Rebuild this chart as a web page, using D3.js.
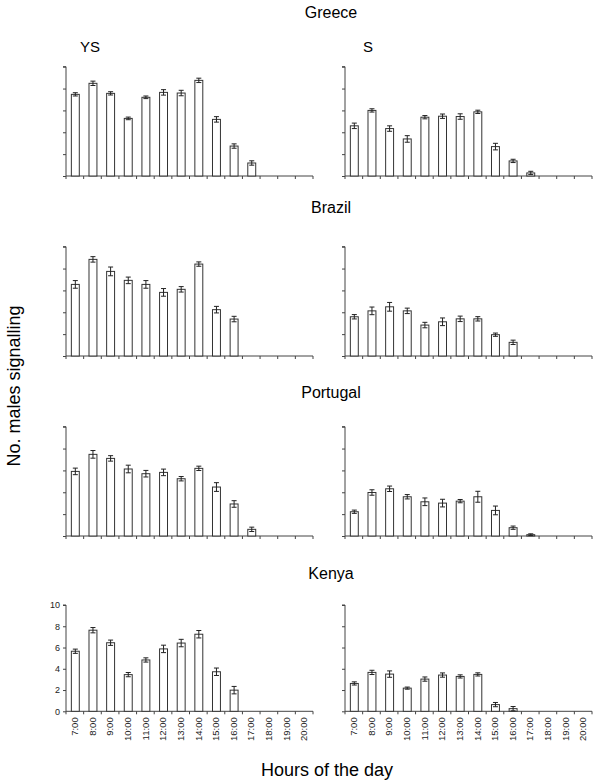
<!DOCTYPE html>
<html>
<head>
<meta charset="utf-8">
<script src="https://cdn.jsdelivr.net/npm/d3@7"></script>
<style>
  html, body { margin: 0; padding: 0; background: #fff; }
  svg { display: block; font-family: "Liberation Sans", Arial, sans-serif; }
</style>
</head>
<body>
<svg id="chart" width="605" height="782"></svg>
<script>
// ---------- data ----------
const hours = ["7:00","8:00","9:00","10:00","11:00","12:00","13:00","14:00","15:00","16:00","17:00","18:00","19:00","20:00"];
const yTicks = [0, 2, 4, 6, 8, 10];
const countries = ["Greece", "Brazil", "Portugal", "Kenya"];
const groups = ["YS", "S"];

const greeceYS    = [7.47, 8.48, 7.56, 5.27, 7.20, 7.65, 7.59, 8.75, 5.18, 2.74, 1.19, 0, 0, 0];
const greeceYSErr = [0.15, 0.20, 0.15, 0.12, 0.12, 0.25, 0.25, 0.20, 0.25, 0.20, 0.20, 0, 0, 0];
const greeceS     = [4.59, 6.00, 4.34, 3.39, 5.38, 5.47, 5.44, 5.87, 2.69, 1.38, 0.28, 0, 0, 0];
const greeceSErr  = [0.25, 0.15, 0.25, 0.30, 0.15, 0.20, 0.25, 0.15, 0.30, 0.15, 0.15, 0, 0, 0];

const brazilYS    = [6.55, 8.84, 7.74, 6.92, 6.55, 5.82, 6.10, 8.41, 4.24, 3.38, 0, 0, 0, 0];
const brazilYSErr = [0.35, 0.25, 0.40, 0.30, 0.35, 0.35, 0.25, 0.20, 0.30, 0.25, 0, 0, 0, 0];
const brazilS     = [3.59, 4.13, 4.50, 4.13, 2.83, 3.13, 3.40, 3.40, 1.95, 1.25, 0, 0, 0, 0];
const brazilSErr  = [0.20, 0.35, 0.40, 0.25, 0.25, 0.35, 0.25, 0.20, 0.15, 0.20, 0, 0, 0, 0];

const portugalYS    = [5.91, 7.47, 7.10, 6.13, 5.70, 5.82, 5.24, 6.19, 4.48, 2.93, 0.61, 0, 0, 0];
const portugalYSErr = [0.30, 0.35, 0.25, 0.35, 0.30, 0.30, 0.20, 0.20, 0.40, 0.30, 0.20, 0, 0, 0];
const portugalS     = [2.22, 3.98, 4.32, 3.59, 3.13, 3.01, 3.19, 3.59, 2.34, 0.76, 0.12, 0, 0, 0];
const portugalSErr  = [0.15, 0.25, 0.25, 0.20, 0.35, 0.35, 0.15, 0.50, 0.40, 0.15, 0.08, 0, 0, 0];

const kenyaYS    = [5.65, 7.63, 6.45, 3.45, 4.83, 5.87, 6.42, 7.25, 3.72, 1.99, 0, 0, 0, 0];
const kenyaYSErr = [0.20, 0.25, 0.25, 0.20, 0.20, 0.35, 0.35, 0.35, 0.35, 0.35, 0, 0, 0, 0];
const kenyaS     = [2.62, 3.66, 3.50, 2.18, 3.03, 3.41, 3.28, 3.47, 0.63, 0.25, 0, 0, 0, 0];
const kenyaSErr  = [0.15, 0.20, 0.30, 0.10, 0.20, 0.20, 0.15, 0.15, 0.20, 0.20, 0, 0, 0, 0];

const seriesValues = {
  Greece:   { YS: [greeceYS, greeceYSErr],     S: [greeceS, greeceSErr] },
  Brazil:   { YS: [brazilYS, brazilYSErr],     S: [brazilS, brazilSErr] },
  Portugal: { YS: [portugalYS, portugalYSErr], S: [portugalS, portugalSErr] },
  Kenya:    { YS: [kenyaYS, kenyaYSErr],       S: [kenyaS, kenyaSErr] }
};

// ---------- layout ----------
const rowLayout = [
  { top: 66.7,  bottom: 176,   titleY: 18 },
  { top: 246.7, bottom: 356,   titleY: 213 },
  { top: 426.7, bottom: 536,   titleY: 398 },
  { top: 605,   bottom: 711.3, titleY: 579 }
];
const colLayout = [ { left: 66, right: 313 }, { left: 345, right: 592 } ];
const axisColor = "#444";
const barStroke = "#333";

const svg = d3.select("#chart");

countries.forEach((country, ri) => {
  const row = rowLayout[ri];
  svg.append("text")
    .attr("x", 331).attr("y", row.titleY)
    .attr("text-anchor", "middle")
    .attr("font-size", 16)
    .attr("fill", "#000")
    .text(country);

  groups.forEach((grp, ci) => {
    const col = colLayout[ci];
    const x = d3.scaleBand().domain(hours).range([col.left, col.right]).paddingInner(0.55).paddingOuter(0.275);
    const xs = d3.scaleBand().domain(hours).range([col.left, col.right]);
    const y = d3.scaleLinear().domain([0, 10]).range([row.bottom, row.top]);
    const [vals, errs] = seriesValues[country][grp];
    const g = svg.append("g");

    // y axis
    const showLabels = (ri === 3 && ci === 0);
    const yAxis = d3.axisLeft(y).tickValues(yTicks).tickSize(3).tickPadding(3)
      .tickFormat(showLabels ? d3.format("d") : () => "");
    const ya = g.append("g").attr("transform", `translate(${col.left},0)`).call(yAxis);
    ya.select(".domain").attr("stroke", axisColor).attr("d", `M-3,${row.top}H0V${row.bottom}`);
    ya.selectAll(".tick line").attr("stroke", axisColor);
    ya.selectAll(".tick text").attr("font-size", 9).attr("fill", "#222")
      .attr("font-family", "\"Liberation Sans\", Arial, sans-serif");

    // x axis: line + boundary ticks
    g.append("line")
      .attr("x1", col.left).attr("x2", col.right)
      .attr("y1", row.bottom).attr("y2", row.bottom)
      .attr("stroke", axisColor);
    const bounds = hours.map(h => xs(h)).concat([xs(hours[hours.length - 1]) + xs.bandwidth()]);
    g.selectAll(".xt").data(bounds).join("line")
      .attr("x1", d => d).attr("x2", d => d)
      .attr("y1", row.bottom).attr("y2", row.bottom + 3)
      .attr("stroke", axisColor);

    if (ri === 3) {
      g.selectAll(".xl").data(hours).join("text")
        .attr("transform", h => `translate(${xs(h) + xs.bandwidth() / 2 + 3.2},${row.bottom + 6}) rotate(-90)`)
        .attr("text-anchor", "end")
        .attr("font-size", 9.5)
        .attr("fill", "#222")
        .text(h => h);
    }

    // bars
    const data = hours.map((h, i) => ({ h, v: vals[i], e: errs[i] })).filter(d => d.v > 0);
    g.selectAll(".bar").data(data).join("rect")
      .attr("x", d => x(d.h) + 0.5)
      .attr("y", d => y(d.v))
      .attr("width", x.bandwidth())
      .attr("height", d => row.bottom - y(d.v))
      .attr("fill", "#fff")
      .attr("stroke", barStroke)
      .attr("stroke-width", 1);

    // error bars
    const cx = d => x(d.h) + x.bandwidth() / 2 + 0.5;
    const eg = g.selectAll(".err").data(data.filter(d => d.e > 0)).join("g");
    eg.append("line")
      .attr("x1", cx).attr("x2", cx)
      .attr("y1", d => y(d.v + d.e)).attr("y2", d => y(Math.max(0, d.v - d.e)))
      .attr("stroke", "#222");
    eg.append("line")
      .attr("x1", d => cx(d) - 2.5).attr("x2", d => cx(d) + 2.5)
      .attr("y1", d => y(d.v + d.e)).attr("y2", d => y(d.v + d.e))
      .attr("stroke", "#222");
    eg.append("line")
      .attr("x1", d => cx(d) - 2.5).attr("x2", d => cx(d) + 2.5)
      .attr("y1", d => y(Math.max(0, d.v - d.e))).attr("y2", d => y(Math.max(0, d.v - d.e)))
      .attr("stroke", "#222");

    if (ri === 0) {
      svg.append("text")
        .attr("x", ci === 0 ? 80 : 363).attr("y", 52)
        .attr("font-size", 15)
        .attr("fill", "#000")
        .text(grp);
    }
  });
});

// axis titles
svg.append("text")
  .attr("transform", "translate(20,386) rotate(-90)")
  .attr("text-anchor", "middle")
  .attr("font-size", 18)
  .attr("fill", "#000")
  .text("No. males signalling");

svg.append("text")
  .attr("x", 327).attr("y", 776)
  .attr("text-anchor", "middle")
  .attr("font-size", 18)
  .attr("fill", "#000")
  .text("Hours of the day");
</script>
</body>
</html>
